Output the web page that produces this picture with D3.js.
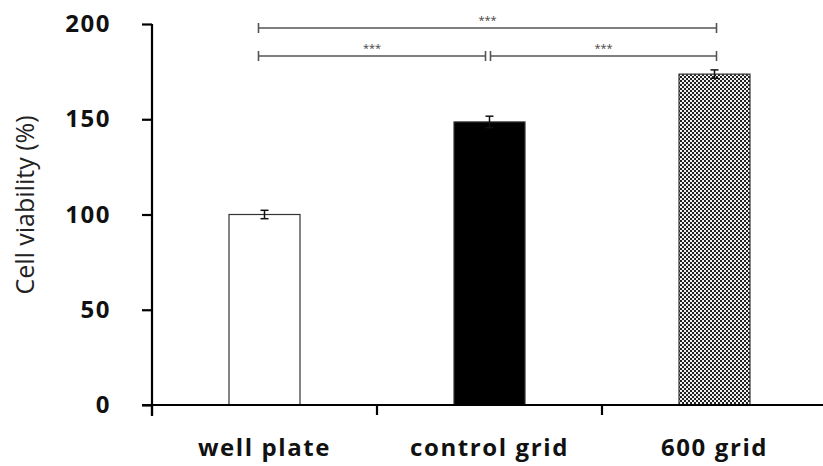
<!DOCTYPE html>
<html>
<head>
<meta charset="utf-8">
<script src="https://cdn.jsdelivr.net/npm/d3@7"></script>
<style>
  body { margin: 0; background: #fff; }
  svg { font-family: "Open Sans", "Noto Sans", sans-serif; }
</style>
</head>
<body>
<script>
var categories = ["well plate", "control grid", "600 grid"];
var values = [100, 148.6, 173.7];
var errors = [2.2, 3.0, 2.2];
var yTicks = [0, 50, 100, 150, 200];
// significance brackets: from / to category index, row (0 = lower, 1 = upper)
var brackets = [
  {from: 0, to: 2, level: 1, label: "***"},
  {from: 0, to: 1, level: 0, label: "***"},
  {from: 1, to: 2, level: 0, label: "***"}
];

var width = 823, height = 466;
var margin = {top: 24, left: 152, bottom: 61};
var fontFam = "'Open Sans', 'Noto Sans', sans-serif";

var svg = d3.select("body").append("svg")
  .attr("width", width)
  .attr("height", height);

var defs = svg.append("defs");
var pat = defs.append("pattern")
  .attr("id", "checker")
  .attr("width", 4).attr("height", 4)
  .attr("patternUnits", "userSpaceOnUse");
pat.append("rect").attr("width", 4).attr("height", 4).attr("fill", "#f2f2f2");
pat.append("rect").attr("width", 2).attr("height", 2).attr("fill", "#222");
pat.append("rect").attr("x", 2).attr("y", 2).attr("width", 2).attr("height", 2).attr("fill", "#222");

var xScale = d3.scaleBand()
  .domain(categories)
  .range([margin.left, margin.left + 225 * 3])
  .paddingInner(0)
  .paddingOuter(0);

var yScale = d3.scaleLinear()
  .domain([0, 200])
  .range([height - margin.bottom, margin.top]);

var barW = 71;
var fills = ["#fff", "#000", "url(#checker)"];
function cx(i){ return xScale(categories[i]) + xScale.bandwidth()/2; }

// bars
svg.selectAll(".bar")
  .data(values)
  .enter()
  .append("rect")
  .attr("class", "bar")
  .attr("x", function(d, i){ return cx(i) - barW/2; })
  .attr("y", function(d){ return yScale(d); })
  .attr("width", barW)
  .attr("height", function(d){ return yScale(0) - yScale(d); })
  .attr("fill", function(d, i){ return fills[i]; })
  .attr("stroke", "#333")
  .attr("stroke-width", 1.2);

// error bars
var eb = svg.selectAll(".err")
  .data(values)
  .enter()
  .append("g")
  .attr("class", "err")
  .attr("stroke", "#111")
  .attr("stroke-width", 1.5);
eb.append("line")
  .attr("x1", function(d, i){ return cx(i); })
  .attr("x2", function(d, i){ return cx(i); })
  .attr("y1", function(d, i){ return yScale(d + errors[i]); })
  .attr("y2", function(d, i){ return yScale(d - errors[i]); });
[1, -1].forEach(function(s){
  eb.append("line")
    .attr("x1", function(d, i){ return cx(i) - 4; })
    .attr("x2", function(d, i){ return cx(i) + 4; })
    .attr("y1", function(d, i){ return yScale(d + s * errors[i]); })
    .attr("y2", function(d, i){ return yScale(d + s * errors[i]); });
});

// y axis
var yAxis = svg.append("g")
  .attr("transform", "translate(" + margin.left + ",0)")
  .call(d3.axisLeft(yScale).tickValues(yTicks).tickSize(10).tickSizeOuter(0).tickPadding(30));
yAxis.attr("font-family", fontFam).attr("font-size", 24);
yAxis.select(".domain").remove();
yAxis.append("line")
  .attr("x1", 0).attr("x2", 0)
  .attr("y1", yScale(200)).attr("y2", yScale(0) + 11)
  .attr("stroke", "#000").attr("stroke-width", 2.2);
yAxis.selectAll(".tick line").attr("stroke-width", 2.2);
yAxis.selectAll("text")
  .attr("x", -41)
  .attr("font-weight", "bold")
  .attr("letter-spacing", 1.5)
  .attr("fill", "#111");

// x axis
var xAxis = svg.append("g")
  .attr("transform", "translate(0," + yScale(0) + ")")
  .call(d3.axisBottom(xScale).tickSize(0));
xAxis.attr("font-family", fontFam).attr("font-size", 24);
xAxis.select(".domain").remove();
xAxis.append("line")
  .attr("x1", margin.left - 10).attr("x2", width)
  .attr("stroke", "#000").attr("stroke-width", 2.2);
xAxis.selectAll(".bt")
  .data(d3.range(categories.length + 1))
  .enter()
  .append("line")
  .attr("x1", function(d){ return margin.left + d * xScale.step(); })
  .attr("x2", function(d){ return margin.left + d * xScale.step(); })
  .attr("y1", 0).attr("y2", 10)
  .attr("stroke", "#000").attr("stroke-width", 2.2);
xAxis.selectAll("text")
  .attr("y", 51).attr("dy", 0)
  .attr("font-weight", "bold")
  .attr("letter-spacing", 1.6)
  .attr("fill", "#111");

// y label
svg.append("text")
  .attr("transform", "translate(34,205) rotate(-90)")
  .attr("text-anchor", "middle")
  .attr("font-size", 25)
  .attr("fill", "#222")
  .text("Cell viability (%)");

// brackets
var levelY = [56, 28];
var bg = svg.selectAll(".br")
  .data(brackets)
  .enter()
  .append("g")
  .attr("class", "br")
  .attr("stroke", "#555")
  .attr("stroke-width", 1.6);
bg.each(function(d){
  var g = d3.select(this);
  var y = levelY[d.level];
  // outer ends sit just inside the bar edges; the two lower brackets meet near the middle bar
  var xa = d.from === 0 ? cx(0) - 6 : cx(d.from) + 1;
  var xb = d.to === 2 ? cx(2) + 2 : cx(d.to) - 4;
  g.append("line").attr("x1", xa).attr("x2", xb).attr("y1", y).attr("y2", y);
  [xa, xb].forEach(function(x){
    g.append("line").attr("x1", x).attr("x2", x).attr("y1", y - 5).attr("y2", y + 5);
  });
  g.append("text")
    .attr("x", (xa + xb) / 2)
    .attr("y", y - 4)
    .attr("text-anchor", "middle")
    .attr("font-size", 11)
    .attr("stroke", "none")
    .attr("fill", "#444")
    .text(d.label);
});
</script>
</body>
</html>
